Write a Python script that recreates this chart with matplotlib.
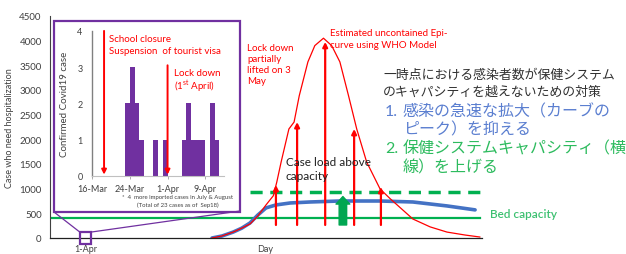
import matplotlib
matplotlib.use("Agg")
import matplotlib.pyplot as plt
from matplotlib.patches import Rectangle, ConnectionPatch

plt.rcParams['font.family'] = ['Lato', 'Noto Sans CJK JP', 'DejaVu Sans']

# ---- data -------------------------------------------------------------
# inset: confirmed cases per day (days since 16-Mar)
case_days = [7, 8, 9, 10, 13, 15, 19, 20, 21, 22, 23, 25, 26]
case_counts = [2, 3, 2, 1, 1, 1, 1, 2, 1, 1, 1, 2, 1]
inset_ticks = [0, 8, 16, 24]
inset_tick_labels = ['16-Mar', '24-Mar', '1-Apr', '9-Apr']
school_closure_day = 2.5
lockdown_day = 16

# main: estimated uncontained epi-curve (arbitrary day axis 0..100)
red_x = [37.5, 39.8, 42.4, 44.4, 46.3, 48.1, 50.0, 51.7, 52.5, 53.5, 55.3, 56.5, 57.7,
         59.7, 61.3, 63.3, 65.2, 67.1, 69.1, 71.0, 73.3, 76.4, 78.7, 81.0, 84.0,
         88.0, 91.9, 96.1, 99.5]
red_y = [0, 40, 120, 200, 285, 445, 670, 857, 1135, 1540, 2210, 2350, 2885,
         3570, 3900, 4050, 3900, 3570, 2885, 2210, 1540, 995, 800, 620, 385,
         225, 120, 60, 20]

# main: actual case load curve
blue_x = [37.5, 39.8, 42.4, 44.4, 46.3, 48.1, 50.0, 52.3, 55.6, 60.2, 67.1, 76.4,
          84.0, 91.9, 98.4]
blue_y = [0, 40, 120, 200, 305, 465, 610, 670, 710, 730, 750, 750, 730, 650, 570]

bed_capacity = 405
raised_capacity = 925
dashed_start = 46.3
line_end = 99.5

arrow_x = [52.3, 57.2, 63.7, 70.4, 76.6]
arrow_top = [1075, 2350, 3975, 2210, 1035]
arrow_base = 264
green_arrow_x = 67.8
green_arrow_top = 840

apr1_main = 8.2

W, H = 626, 255
RED = '#FF0000'
PURPLE = '#7030A0'
GREEN = '#00B050'
BLUE = '#4472C4'


def fx(px):
    return px / W


def fy(py):
    return 1 - py / H


fig = plt.figure(figsize=(W / 100, H / 100), dpi=100)

# ---- main axes -------------------------------------------------------
ax = fig.add_axes([fx(50), fy(239), (482 - 50) / W, (239 - 17) / H])
ax.set_xlim(0, 100)
ax.set_ylim(0, 4500)
ax.set_yticks(range(0, 4501, 500))
ax.set_xticks([])
ax.tick_params(axis='y', length=0, pad=6, labelsize=7, labelcolor='#404040')
for s in ['top', 'right']:
    ax.spines[s].set_visible(False)
ax.spines['left'].set_color('#404040')
ax.spines['left'].set_linewidth(0.8)
ax.spines['bottom'].set_color('#202020')
ax.spines['bottom'].set_linewidth(0.9)
ax.set_ylabel('Case who need hospitalization', fontsize=6.5, color='#404040', labelpad=4)

ax.axhline(bed_capacity, xmin=0, xmax=line_end / 100, color=GREEN, lw=1.6)
ax.plot([dashed_start, line_end], [raised_capacity] * 2, color=GREEN, lw=2.5,
        ls=(0, (3.5, 2.2)))
ax.plot(blue_x, blue_y, color=BLUE, lw=2.6, solid_capstyle='round')
ax.plot(red_x, red_y, color=RED, lw=0.9)

for x, top in zip(arrow_x, arrow_top):
    ax.annotate('', xy=(x, top), xytext=(x, arrow_base),
                arrowprops=dict(arrowstyle='-|>', color=RED, lw=1.6,
                                mutation_scale=7, shrinkA=0, shrinkB=0))
ax.annotate('', xy=(green_arrow_x, green_arrow_top), xytext=(green_arrow_x, arrow_base),
            arrowprops=dict(arrowstyle='simple,head_length=0.6,head_width=1.1,tail_width=0.6',
                            color='#00A651', mutation_scale=9, shrinkA=0, shrinkB=0))

# small marker square around 1-Apr
sq = Rectangle((apr1_main - 1.3, -125), 2.6, 245, fill=False, ec=PURPLE, lw=1.6,
               clip_on=False, zorder=5)
ax.add_patch(sq)

# ---- inset box and axes ---------------------------------------------
box = Rectangle((fx(54), fy(213)), fx(240) - fx(54), fy(22) - fy(213),
                transform=fig.transFigure, fc='white', ec=PURPLE, lw=1.6, zorder=1)
fig.add_artist(box)
for a, b in [((fx(54), fy(213)), (apr1_main - 1.3, 120)),
             ((fx(240), fy(212)), (apr1_main + 1.3, 120))]:
    cp = ConnectionPatch(xyA=a, coordsA=fig.transFigure, xyB=b, coordsB=ax.transData,
                         color=PURPLE, lw=0.9, zorder=1)
    fig.add_artist(cp)

ax_in = fig.add_axes([fx(92.3), fy(176.7), (224 - 92.3) / W, (176.7 - 31.9) / H])
ax_in.set_zorder(3)
ax_in.patch.set_alpha(0)
ax_in.bar(case_days, case_counts, width=1.0, align='edge', color=PURPLE, lw=0)
ax_in.set_xlim(0, 28)
ax_in.set_ylim(0, 4)
ax_in.set_yticks([0, 1, 2, 3, 4])
ax_in.set_xticks(inset_ticks)
ax_in.set_xticklabels(inset_tick_labels)
ax_in.tick_params(axis='y', length=0, pad=7, labelsize=6.5, labelcolor='#404040')
ax_in.tick_params(axis='x', length=2, width=0.6, color='#A0A0A0', pad=4,
                  labelsize=6.5, labelcolor='#404040')
for s in ['top', 'right']:
    ax_in.spines[s].set_visible(False)
ax_in.spines['left'].set_color('#808080')
ax_in.spines['left'].set_linewidth(1.0)
ax_in.spines['bottom'].set_color('#C0C0C0')
ax_in.spines['bottom'].set_linewidth(0.8)
ax_in.set_ylabel('Confirmed Covid19 case', fontsize=7, color='#404040', labelpad=6)

ax_in.annotate('', xy=(school_closure_day, 0.03), xytext=(school_closure_day, 4.0),
               arrowprops=dict(arrowstyle='-|>', color=RED, lw=1.4, mutation_scale=7,
                               shrinkA=0, shrinkB=0))
ax_in.annotate('', xy=(lockdown_day, 0.03), xytext=(lockdown_day, 3.05),
               arrowprops=dict(arrowstyle='-|>', color=RED, lw=1.4, mutation_scale=7,
                               shrinkA=0, shrinkB=0))

# ---- texts ------------------------------------------------------------
fig.text(fx(109), fy(39), 'School closure', color=RED, fontsize=7, va='center', zorder=4)
fig.text(fx(109), fy(52), 'Suspension  of tourist visa', color=RED, fontsize=7,
         va='center', zorder=4)
fig.text(fx(174), fy(74), 'Lock down', color=RED, fontsize=7, va='center', zorder=4)
fig.text(fx(174), fy(87), '(1$^{\\mathregular{st}}$ April)', color=RED, fontsize=7,
         va='center', zorder=4)
fig.text(fx(178), fy(198), '*  4  more imported cases in July & August', fontsize=4.3,
         color='#404040', ha='center', va='center', zorder=4)
fig.text(fx(178), fy(205.5), '(Total of 23 cases as of  Sep18)', fontsize=4.3,
         color='#404040', ha='center', va='center', zorder=4)

fig.text(fx(86), fy(250), '1-Apr', fontsize=6.5, color='#404040', ha='center', va='center')
fig.text(fx(265), fy(250), 'Day', fontsize=6.5, color='#404040', ha='center', va='center')

fig.text(fx(247), fy(44), 'Lock down\npartially\nlifted on 3\nMay', color=RED, fontsize=7,
         va='top', linespacing=1.3, ha='left')
fig.text(fx(330), fy(34), 'Estimated uncontained Epi-', color=RED, fontsize=7, va='center')
fig.text(fx(330), fy(46), 'curve using WHO Model', color=RED, fontsize=7, va='center')

fig.text(fx(286), fy(163), 'Case load above', fontsize=8.5, color='#202020', va='center')
fig.text(fx(286), fy(177), 'capacity', fontsize=8.5, color='#202020', va='center')
fig.text(fx(490), fy(215), 'Bed capacity', fontsize=8.5, color='#3CC070',
         fontweight='semibold', va='center')

fig.text(fx(383), fy(75), '一時点における感染者数が保健システム', fontsize=9.3,
         color='#303030', va='center')
fig.text(fx(383), fy(92), 'のキャパシティを越えないための対策', fontsize=9.3,
         color='#303030', va='center')
fig.text(fx(385), fy(112), '1.', fontsize=11.5, color='#5B7FD0', va='center')
fig.text(fx(403), fy(112), '感染の急速な拡大（カーブの', fontsize=11.5, color='#5B7FD0',
         va='center')
fig.text(fx(403), fy(130), 'ピーク）を抑える', fontsize=11.5, color='#5B7FD0', va='center')
fig.text(fx(385), fy(149), '2.', fontsize=11.5, color='#2DBB5E', va='center')
fig.text(fx(403), fy(149), '保健システムキャパシティ（横', fontsize=11.5, color='#2DBB5E',
         va='center')
fig.text(fx(403), fy(168), '線）を上げる', fontsize=11.5, color='#2DBB5E', va='center')

fig.savefig('out.png', dpi=100, facecolor='white')
